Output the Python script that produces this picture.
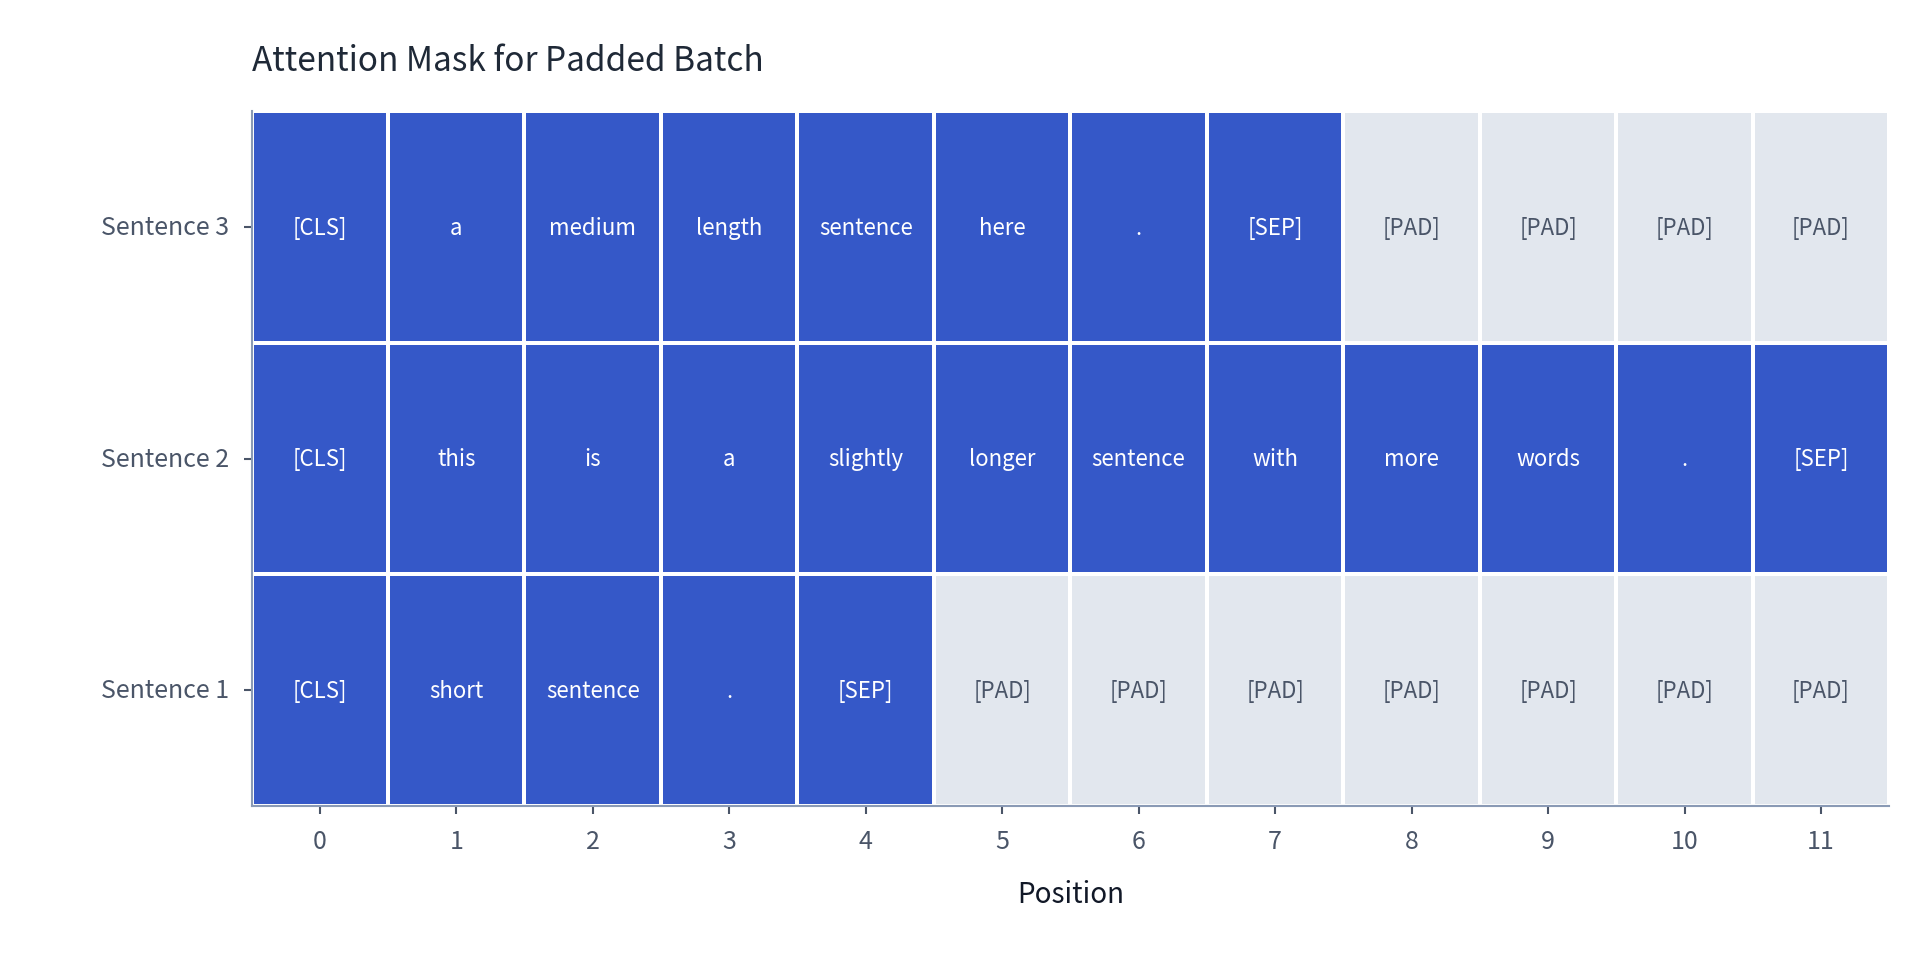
import numpy as np, pandas as pd, seaborn as sns, matplotlib.pyplot as plt
from matplotlib.colors import ListedColormap

sentences = ["Sentence 3", "Sentence 2", "Sentence 1"]
positions = list(range(12))
tokens_s1 = ["[CLS]","short","sentence",".","[SEP]"] + ["[PAD]"]*7
tokens_s2 = ["[CLS]","this","is","a","slightly","longer","sentence","with","more","words",".","[SEP]"]
tokens_s3 = ["[CLS]","a","medium","length","sentence","here",".","[SEP]"] + ["[PAD]"]*4
tokens = [tokens_s3, tokens_s2, tokens_s1]
mask = [[0 if t == "[PAD]" else 1 for t in row] for row in tokens]

sns.set_theme(style="white")
plt.rcParams['font.family'] = ['Noto Sans CJK KR', 'DejaVu Sans']
fig = plt.figure(figsize=(19.2, 9.78), dpi=100)
ax = fig.add_axes([0.131, 0.175, 0.853, 0.71])
df = pd.DataFrame(mask, index=sentences, columns=positions)
cmap = ListedColormap(["#E2E7EE", "#3558C8"])
sns.heatmap(df, ax=ax, cmap=cmap, vmin=0, vmax=1, cbar=False, linewidths=1.5, linecolor="white")
for i, row in enumerate(tokens):
    for j, t in enumerate(row):
        ax.text(j + 0.5, i + 0.5, t, ha="center", va="center", fontsize=16,
                color="white" if mask[i][j] else "#4A5568")
ax.set_title("Attention Mask for Padded Batch", loc="left", fontsize=24, color="#1F2937", pad=30)
ax.set_xlabel("Position", fontsize=20, color="#111827", labelpad=18)
ax.set_ylabel("")
ax.tick_params(axis="both", labelsize=18, colors="#4A5568", length=6, width=1.5, left=True, bottom=True, pad=10)
ax.tick_params(axis="x", labelcolor="#4A5568")
plt.setp(ax.get_yticklabels(), rotation=0)
for s in ["left", "bottom"]:
    ax.spines[s].set_visible(True)
    ax.spines[s].set_color("#8A9AB5")
    ax.spines[s].set_linewidth(1.5)
fig.savefig("out.png", dpi=100)
